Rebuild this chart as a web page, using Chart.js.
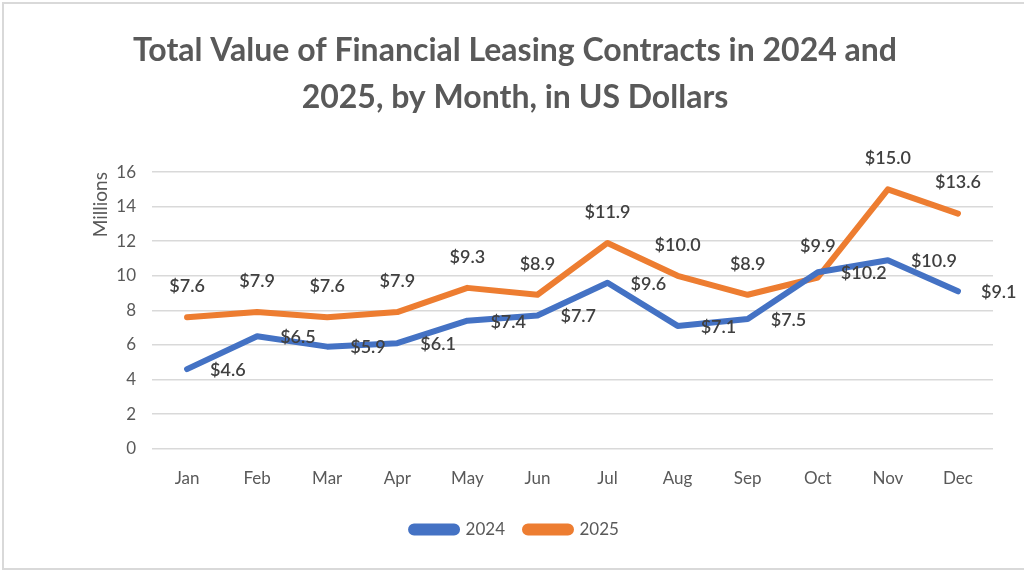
<!DOCTYPE html>
<html>
<head>
<meta charset="utf-8">
<script src="https://cdn.jsdelivr.net/npm/chart.js@4"></script>
<style>
  html, body { margin: 0; padding: 0; background: #fff; overflow: hidden; }
  #wrap { position: relative; width: 1024px; height: 576px; overflow: hidden; }
  #frame { position: absolute; left: 2px; top: 2px; width: 1040px; height: 568px;
           border: 2px solid #d9d9d9; box-sizing: border-box; pointer-events: none; }
</style>
</head>
<body>
<div id="wrap">
  <canvas id="leasingChart" width="1024" height="576"></canvas>
  <div id="frame"></div>
</div>
<script>
// Data kontrak leasing per bulan (juta USD)
const months = ['Jan', 'Feb', 'Mar', 'Apr', 'May', 'Jun', 'Jul', 'Aug', 'Sep', 'Oct', 'Nov', 'Dec'];
const values2024 = [4.6, 6.5, 5.9, 6.1, 7.4, 7.7, 9.6, 7.1, 7.5, 10.2, 10.9, 9.1];
const values2025 = [7.6, 7.9, 7.6, 7.9, 9.3, 8.9, 11.9, 10.0, 8.9, 9.9, 15.0, 13.6];
const yTicks = [0, 2, 4, 6, 8, 10, 12, 14, 16];

const textGray = '#595959';
const blue = '#4472C4';
const orange = '#ED7D31';

// Label nilai: 2024 di kanan titik, 2025 di atas titik
const valueLabels = {
  id: 'valueLabels',
  afterDatasetsDraw(chart) {
    const c = chart.ctx;
    c.save();
    c.font = '600 18px Lato';
    c.fillStyle = '#404040';
    c.textBaseline = 'middle';
    chart.data.datasets.forEach((ds, i) => {
      const meta = chart.getDatasetMeta(i);
      meta.data.forEach((pt, j) => {
        const txt = '$' + ds.data[j].toFixed(1);
        if (i === 0) {
          c.textAlign = 'left';
          c.fillText(txt, pt.x + 23, pt.y + 1);
        } else {
          c.textAlign = 'center';
          c.fillText(txt, pt.x, pt.y - 31);
        }
      });
    });
    c.restore();
  }
};

const ctx = document.getElementById('leasingChart').getContext('2d');
const leasingChart = new Chart(ctx, {
  type: 'line',
  data: {
    labels: months,
    datasets: [{
      label: '2024',
      data: values2024,
      borderColor: blue,
      backgroundColor: blue,
      borderWidth: 6,
      pointRadius: 0,
      tension: 0,
      borderJoinStyle: 'round',
      borderCapStyle: 'round'
    }, {
      label: '2025',
      data: values2025,
      borderColor: orange,
      backgroundColor: orange,
      borderWidth: 6,
      pointRadius: 0,
      tension: 0,
      borderJoinStyle: 'round',
      borderCapStyle: 'round'
    }]
  },
  options: {
    responsive: false,
    animation: false,
    layout: {
      padding: { left: 37, right: 31, top: 10, bottom: 28 }
    },
    scales: {
      x: {
        offset: true,
        grid: { display: false },
        border: { display: false },
        ticks: { color: textGray, font: { family: 'Lato', size: 17 }, padding: 12 }
      },
      y: {
        min: 0,
        max: 16,
        afterBuildTicks(axis) {
          axis.ticks = yTicks.map(v => ({ value: v }));
        },
        afterFit(axis) {
          axis.width = 115;
        },
        grid: { color: '#d9d9d9', lineWidth: 1.5, drawTicks: false },
        border: { display: false },
        ticks: { color: textGray, font: { family: 'Lato', size: 17 }, padding: 16 },
        title: {
          display: true,
          text: 'Millions',
          align: 'end',
          color: textGray,
          font: { family: 'Lato', size: 19 },
          padding: { top: 52, bottom: 0 }
        }
      }
    },
    plugins: {
      title: {
        display: true,
        text: ['Total Value of Financial Leasing Contracts in 2024 and',
               '2025, by Month, in US Dollars'],
        color: textGray,
        font: { family: 'Lato', size: 32, weight: 'bold', lineHeight: 1.47 },
        padding: { top: 17, bottom: 51 }
      },
      legend: {
        position: 'bottom',
        labels: {
          color: textGray,
          font: { family: 'Lato', size: 17 },
          boxWidth: 46,
          boxHeight: 6,
          useBorderRadius: true,
          borderRadius: 3,
          padding: 20
        }
      },
      tooltip: { enabled: false }
    }
  },
  plugins: [valueLabels]
});
</script>
</body>
</html>
